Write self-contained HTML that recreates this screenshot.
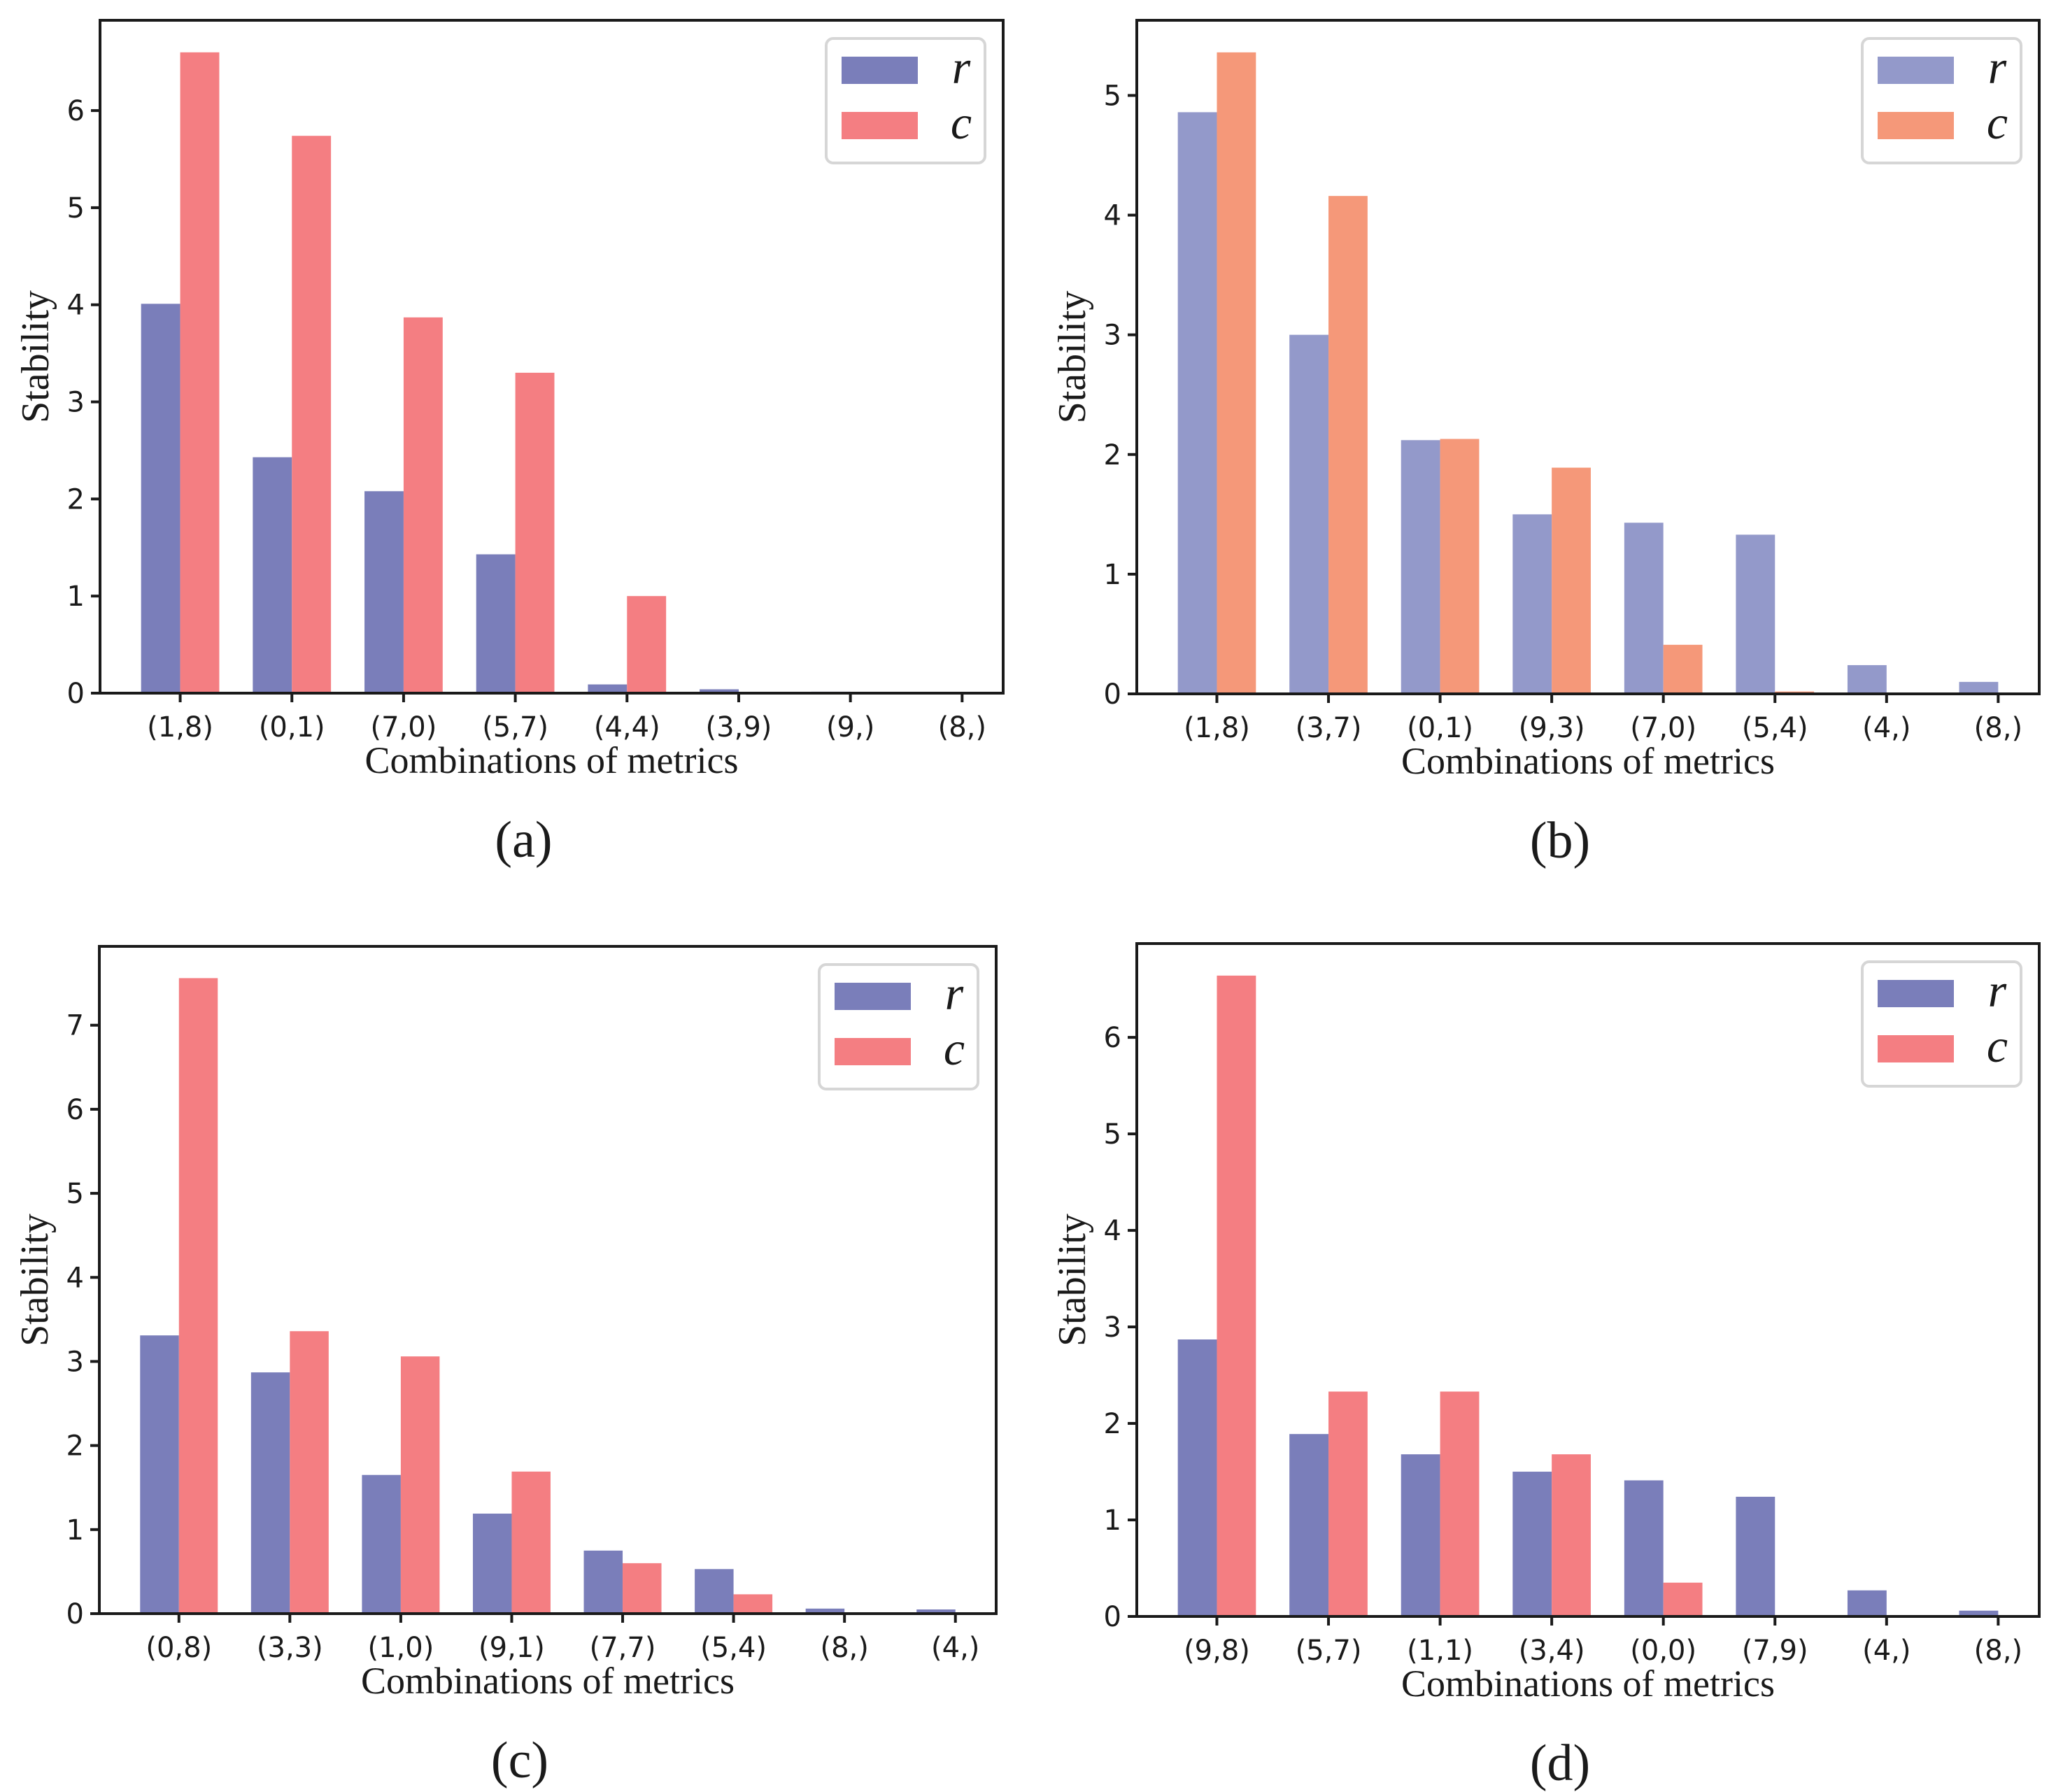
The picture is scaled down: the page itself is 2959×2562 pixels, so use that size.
<!DOCTYPE html>
<html><head><meta charset="utf-8">
<style>
html,body{margin:0;padding:0;background:#fff;}
svg{display:block;}
.tick{font-family:"DejaVu Sans","Liberation Sans",sans-serif;font-size:40px;fill:#1a1a1a;}
.lab{font-family:"Liberation Serif","DejaVu Serif",serif;font-size:56px;fill:#1a1a1a;}
.xlab{font-family:"Liberation Serif","DejaVu Serif",serif;font-size:54px;fill:#1a1a1a;}
.cap{font-family:"Liberation Serif","DejaVu Serif",serif;font-size:74px;fill:#1a1a1a;}
.leg{font-family:"Liberation Serif","DejaVu Serif",serif;font-style:italic;font-size:68px;fill:#1a1a1a;}
</style></head>
<body>
<svg id="fig" width="2959" height="2562" viewBox="0 0 2959 2562" xmlns="http://www.w3.org/2000/svg"></svg>
<script>
const catsA = ["(1,8)","(0,1)","(7,0)","(5,7)","(4,4)","(3,9)","(9,)","(8,)"];
const rA = [4.01,2.43,2.08,1.43,0.09,0.04,0.015,0];
const cA = [6.6,5.74,3.87,3.3,1.0,0,0,0];
const catsB = ["(1,8)","(3,7)","(0,1)","(9,3)","(7,0)","(5,4)","(4,)","(8,)"];
const rB = [4.86,3.0,2.12,1.5,1.43,1.33,0.24,0.1];
const cB = [5.36,4.16,2.13,1.89,0.41,0.02,0,0];
const catsC = ["(0,8)","(3,3)","(1,0)","(9,1)","(7,7)","(5,4)","(8,)","(4,)"];
const rC = [3.31,2.87,1.65,1.19,0.75,0.53,0.06,0.05];
const cC = [7.56,3.36,3.06,1.69,0.6,0.23,0,0];
const catsD = ["(9,8)","(5,7)","(1,1)","(3,4)","(0,0)","(7,9)","(4,)","(8,)"];
const rD = [2.87,1.89,1.68,1.5,1.41,1.24,0.27,0.06];
const cD = [6.64,2.33,2.33,1.68,0.35,0,0,0];
const legendLabels = ["r","c"];

const NS="http://www.w3.org/2000/svg";
const svg=document.getElementById('fig');
function mk(tag,attrs,parent){const e=document.createElementNS(NS,tag);for(const k in attrs)e.setAttribute(k,attrs[k]);(parent||svg).appendChild(e);return e;}

function panel(id,L,T,R,B,cats,rv,cv,colR,colC,caption){
  const g=mk('g',{});
  
  
  const W=0.35;
  const xmin=-0.7175,xmax=7.3675;
  const maxv=Math.max(...rv,...cv);
  const ymax=maxv*1.05;
  const xs=v=>L+(v-xmin)/(xmax-xmin)*(R-L);
  const ys=v=>B-v/ymax*(B-T);
  for(let i=0;i<cats.length;i++){
    const br=mk('rect',{x:xs(i-W),y:ys(rv[i]),width:xs(i)-xs(i-W),height:B-ys(rv[i]),fill:colR},g);
    
    
    const bc=mk('rect',{x:xs(i),y:ys(cv[i]),width:xs(i+W)-xs(i),height:B-ys(cv[i]),fill:colC},g);
    
    
    mk('line',{x1:xs(i),x2:xs(i),y1:B,y2:B+13,stroke:'#1a1a1a','stroke-width':4},g);
    const t=mk('text',{x:xs(i),y:B+62,'text-anchor':'middle',class:'tick'},g);
    t.textContent=cats[i];
    
    
  }
  for(let v=0;v<=Math.floor(ymax);v++){
    mk('line',{x1:L-13,x2:L,y1:ys(v),y2:ys(v),stroke:'#1a1a1a','stroke-width':4},g);
    const t=mk('text',{x:L-22,y:ys(v)+14,'text-anchor':'end',class:'tick'},g);
    t.textContent=String(v);
    
    
  }
  const fr=mk('rect',{x:L,y:T,width:R-L,height:B-T,fill:'none',stroke:'#1a1a1a','stroke-width':4},g);
  
  
  const yl=mk('text',{x:0,y:0,'text-anchor':'middle',class:'lab',transform:`translate(${L-74},${(T+B)/2}) rotate(-90)`},g);
  yl.textContent='Stability';
  
  
  const xl=mk('text',{x:(L+R)/2,y:B+114,'text-anchor':'middle',class:'xlab'},g);
  xl.textContent='Combinations of metrics';
  
  
  const cp=mk('text',{x:(L+R)/2-40,y:B+234,'text-anchor':'middle',class:'cap'},g);
  cp.textContent=caption;
  
  
  const lg=mk('g',{},g);
  
  
  mk('rect',{x:R-253,y:T+26,width:227,height:178,rx:10,fill:'#fff',stroke:'#d6d6d6','stroke-width':4},lg);
  const cols=[colR,colC];
  for(let k=0;k<2;k++){
    const py=T+52+k*79;
    const p=mk('rect',{x:R-231,y:py,width:109,height:39,fill:cols[k]},lg);
    
    
    const t=mk('text',{x:R-60,y:py+38,'text-anchor':'middle',class:'leg'},lg);
    t.textContent=legendLabels[k];
    
    
  }
}
const BLUE='#7a7eba',RED='#f47e82',BLUE2='#9399ca',ORANGE='#f59879';
panel('a',143,29,1434,991,catsA,rA,cA,BLUE,RED,'(a)');
panel('b',1625,29,2915,992,catsB,rB,cB,BLUE2,ORANGE,'(b)');
panel('c',142,1353,1424,2307,catsC,rC,cC,BLUE,RED,'(c)');
panel('d',1625,1349,2915,2311,catsD,rD,cD,BLUE,RED,'(d)');
</script>
</body></html>
